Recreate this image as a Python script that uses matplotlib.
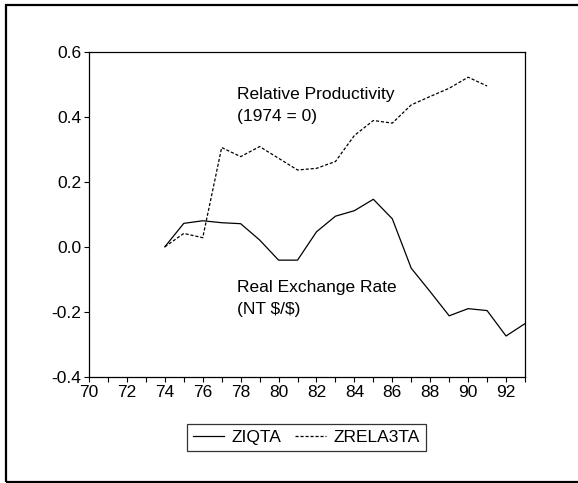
import matplotlib
matplotlib.use("Agg")
from matplotlib import pyplot as plt
from matplotlib.patches import Rectangle

plt.rcParams['font.family'] = ['Liberation Sans', 'DejaVu Sans']

years = [74, 75, 76, 77, 78, 79, 80, 81, 82, 83, 84, 85, 86, 87, 88, 89, 90, 91, 92, 93]
ziqta = [0.0, 0.072, 0.08, 0.074, 0.071, 0.021, -0.041, -0.041, 0.046, 0.094,
         0.111, 0.146, 0.086, -0.066, -0.138, -0.212, -0.19, -0.196, -0.274, -0.236]
years_rel = [74, 75, 76, 77, 78, 79, 80, 81, 82, 83, 84, 85, 86, 87, 88, 89, 90, 91]
zrela3ta = [0.0, 0.041, 0.028, 0.305, 0.277, 0.308, 0.272, 0.236, 0.241, 0.262,
            0.342, 0.388, 0.38, 0.436, 0.462, 0.487, 0.521, 0.494]
xticks = list(range(70, 93, 2))
yticks = [-0.4, -0.2, 0.0, 0.2, 0.4, 0.6]

fig = plt.figure(figsize=(5.78, 4.83), dpi=100)
ax = fig.add_axes([89/578, 1-377/483, (525-89)/578, (377-51.5)/483])

ax.plot(years, ziqta, color='black', linewidth=0.9, label='ZIQTA')
ax.plot(years_rel, zrela3ta, color='black', linewidth=0.9, dashes=(2.5, 1.5), label='ZRELA3TA')

ax.set_xlim(70, 93)
ax.set_ylim(-0.4, 0.6)
ax.set_xticks(xticks)
ax.set_xticks(range(70, 94), minor=True)
ax.set_xticklabels([str(t) for t in xticks])
ax.set_yticks(yticks)
ax.set_yticklabels(['%.1f' % v for v in yticks])
ax.tick_params(axis='both', which='both', direction='out', length=3.5, width=0.8,
               labelsize=12.5, pad=2)
for s in ax.spines.values():
    s.set_linewidth(0.9)

# annotations
ax.text(77.8, 0.467, 'Relative Productivity', fontsize=12.5, va='center')
ax.text(77.8, 0.40, '(1974 = 0)', fontsize=12.5, va='center')
ax.text(77.8, -0.124, 'Real Exchange Rate', fontsize=12.5, va='center')
ax.text(77.8, -0.192, r'(NT \$/\$)', fontsize=12.5, va='center')

leg = ax.legend(loc='center', bbox_to_anchor=(306.5/578, 1-437.5/483),
                bbox_transform=fig.transFigure, ncol=2, fontsize=12.5,
                frameon=True, fancybox=False, edgecolor='black',
                handlelength=1.8, handletextpad=0.4, columnspacing=0.8,
                borderpad=0.35, borderaxespad=0)
leg.get_frame().set_linewidth(0.9)

fig.patches.append(Rectangle((6/578, 1-482/483), 1.0, 477/483, transform=fig.transFigure,
                             fill=False, edgecolor='black', linewidth=1.6, clip_on=False))

fig.savefig('out.png', dpi=100)
